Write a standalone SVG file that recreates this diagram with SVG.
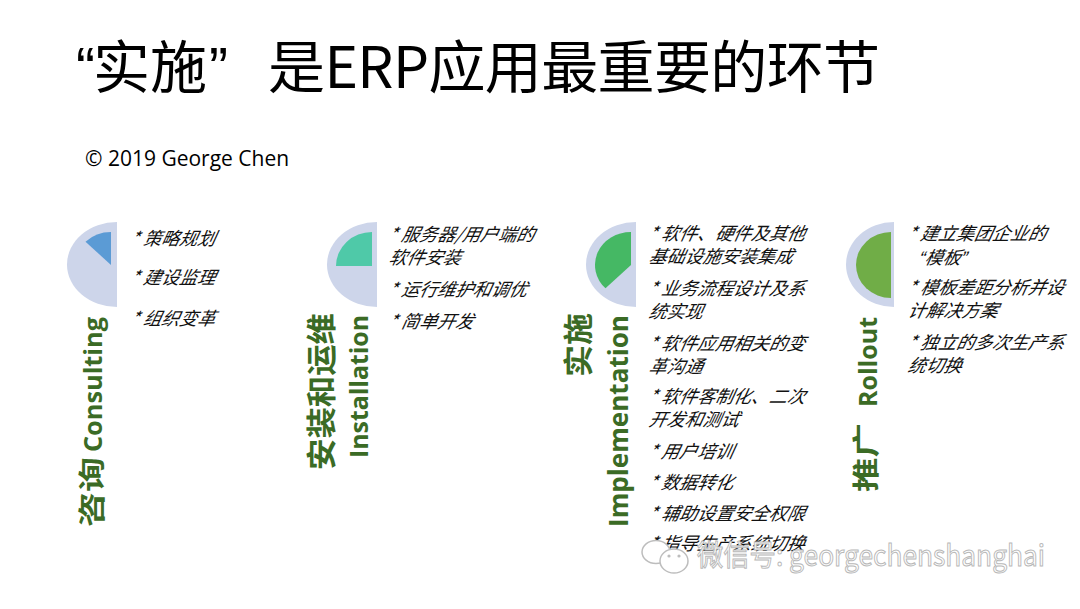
<svg xmlns="http://www.w3.org/2000/svg" width="1080" height="609" viewBox="0 0 1080 609">
<style>
.bg{fill:#ffffff}
.outer{fill:#cdd5ea}
.title{font-family:"Noto Sans CJK SC","Liberation Sans",sans-serif;font-size:57px;fill:#000}
.q{font-family:"Liberation Sans",sans-serif}
.copy{font-family:"Open Sans","Liberation Sans",sans-serif;font-size:21px;fill:#000}
.lab{font-family:"Open Sans","Liberation Sans","Noto Sans CJK SC",sans-serif;font-weight:700;fill:#3b6b25}
.cjk{font-family:"Noto Sans CJK SC",sans-serif;font-weight:700;fill:#3b6b25}
.b{font-family:"Noto Sans CJK SC","Liberation Sans",sans-serif;font-size:18px;font-style:italic;fill:#111}
.wm{font-family:"Noto Sans CJK SC","Liberation Sans",sans-serif;font-size:29px;fill:#ffffff;stroke:#b8b8b8;stroke-width:1}
.wml{fill:#ffffff;stroke:#bdbdbd;stroke-width:1.5}
</style>
<rect class="bg" x="0" y="0" width="1080" height="609"/>

<g id="title">
<text class="title" y="88"><tspan class="q" x="76">“</tspan><tspan x="93">实施</tspan><tspan class="q" x="209">”</tspan></text>
<text class="title" x="268" y="88" textLength="612" lengthAdjust="spacing">是ERP应用最重要的环节</text>
</g>

<g id="copyright">
<text class="copy" x="85" y="166">© 2019 George Chen</text>
</g>

<g id="consulting">
<path class="outer" d="M117,222 A50,42.5 0 0 0 117,307 Z"/>
<path d="M111,265 L111,232 A36,33 0 0 0 85.5,241.7 Z" fill="#5b9bd5"/>
<text class="cjk" font-size="27" transform="translate(102,527) rotate(-90)" textLength="70" lengthAdjust="spacingAndGlyphs">咨询</text>
<text class="lab" font-size="25" transform="translate(102,452) rotate(-90)" textLength="135" lengthAdjust="spacingAndGlyphs">Consulting</text>
<text class="b" transform="translate(130,245) skewX(-12)">* 策略规划</text>
<text class="b" transform="translate(130,284) skewX(-12)">* 建设监理</text>
<text class="b" transform="translate(130,325) skewX(-12)">* 组织变革</text>
</g>

<g id="installation">
<path class="outer" d="M377,222 A50,42.5 0 0 0 377,307 Z"/>
<path d="M372,266 L372,232 A36,34 0 0 0 336,266 Z" fill="#4fc9a8"/>
<text class="cjk" font-size="30" transform="translate(332,470) rotate(-90)" textLength="157" lengthAdjust="spacingAndGlyphs">安装和运维</text>
<text class="lab" font-size="25" transform="translate(368,458) rotate(-90)" textLength="143" lengthAdjust="spacingAndGlyphs">Installation</text>
<text class="b" transform="translate(388,241) skewX(-12)">* 服务器/用户端的</text>
<text class="b" transform="translate(388,264) skewX(-12)">软件安装</text>
<text class="b" transform="translate(388,296) skewX(-12)">* 运行维护和调优</text>
<text class="b" transform="translate(388,328) skewX(-12)">* 简单开发</text>
</g>

<g id="implementation">
<path class="outer" d="M636,222 A50,42.5 0 0 0 636,307 Z"/>
<path d="M631,265 L631,232 A36,33 0 0 0 605.5,288.3 Z" fill="#45b864"/>
<text class="cjk" font-size="30" transform="translate(589,377) rotate(-90)" textLength="64" lengthAdjust="spacingAndGlyphs">实施</text>
<text class="lab" font-size="26" transform="translate(628,527) rotate(-90)" textLength="212" lengthAdjust="spacingAndGlyphs">Implementation</text>
<text class="b" transform="translate(648,240) skewX(-12)">* 软件、硬件及其他</text>
<text class="b" transform="translate(648,263) skewX(-12)">基础设施安装集成</text>
<text class="b" transform="translate(648,295) skewX(-12)">* 业务流程设计及系</text>
<text class="b" transform="translate(648,318) skewX(-12)">统实现</text>
<text class="b" transform="translate(648,350) skewX(-12)">* 软件应用相关的变</text>
<text class="b" transform="translate(648,373) skewX(-12)">革沟通</text>
<text class="b" transform="translate(648,403) skewX(-12)">* 软件客制化、二次</text>
<text class="b" transform="translate(648,426) skewX(-12)">开发和测试</text>
<text class="b" transform="translate(648,458) skewX(-12)">* 用户培训</text>
<text class="b" transform="translate(648,489) skewX(-12)">* 数据转化</text>
<text class="b" transform="translate(648,520) skewX(-12)">* 辅助设置安全权限</text>
<text class="b" transform="translate(648,550) skewX(-12)">* 指导生产系统切换</text>
</g>

<g id="rollout">
<path class="outer" d="M894,222 A48,42.5 0 0 0 894,307 Z"/>
<path d="M891,232 A35,33 0 0 0 891,298 Z" fill="#70ad47"/>
<text class="cjk" font-size="27" transform="translate(876,492) rotate(-90)" textLength="69" lengthAdjust="spacingAndGlyphs">推广</text>
<text class="lab" font-size="25" transform="translate(877,407) rotate(-90)" textLength="90" lengthAdjust="spacingAndGlyphs">Rollout</text>
<text class="b" transform="translate(907,240) skewX(-12)">* 建立集团企业的</text>
<text class="b" transform="translate(918,264) skewX(-12)"><tspan class="q">“</tspan>模板<tspan class="q">”</tspan></text>
<text class="b" transform="translate(907,294) skewX(-12)">* 模板差距分析并设</text>
<text class="b" transform="translate(907,317) skewX(-12)">计解决方案</text>
<text class="b" transform="translate(907,349) skewX(-12)">* 独立的多次生产系</text>
<text class="b" transform="translate(907,372) skewX(-12)">统切换</text>
</g>

<g id="watermark">
<ellipse class="wml" cx="656" cy="552" rx="14" ry="11.5"/>
<ellipse class="wml" cx="674" cy="561" rx="14" ry="12"/>
<circle cx="669" cy="556" r="1.6" fill="#bdbdbd"/>
<circle cx="679" cy="556" r="1.6" fill="#bdbdbd"/>
<text class="wm" x="697" y="566" textLength="348" lengthAdjust="spacingAndGlyphs">微信号: georgechenshanghai</text>
</g>
</svg>
